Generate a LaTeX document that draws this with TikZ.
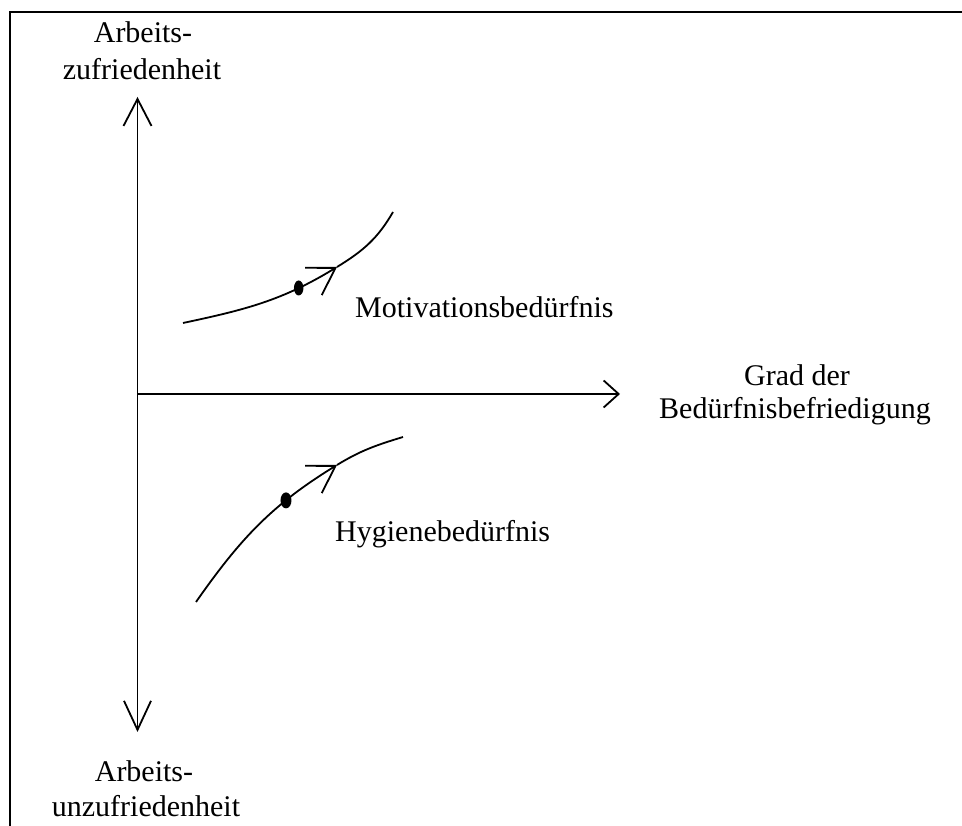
\documentclass[tikz,border=0pt]{standalone}
\usepackage{fontspec}
\setmainfont{Liberation Serif}
\usetikzlibrary{arrows.meta,shapes.geometric}

\begin{document}
\begin{tikzpicture}[x=1pt,y=1pt,
  line/.style={line width=1.8pt, line join=miter},
  lbl/.style={font=\fontsize{30}{36}\selectfont, inner sep=0pt},
  axistip/.tip={Straight Barb[length=27pt,width=28pt]},
  axistipb/.tip={Straight Barb[length=29pt,width=27pt]},
  axistipx/.tip={Straight Barb[length=15pt,width=27pt]},
  curvetip/.tip={Straight Barb[length=26pt,width=32pt]},
  blob/.style={ellipse, fill=black, draw=none, inner sep=0pt}
]
\useasboundingbox (0,0) rectangle (962,826);

% frame (top and left edges)
\draw[line] (10,0) -- (10,814) -- (962,814);

% axes
\coordinate (O) at (137.5,432);
\coordinate (ytop) at (137.5,729);
\coordinate (ybot) at (137.5,94);
\coordinate (xend) at (620,432);
\draw[line, axistipb-axistip] (ybot) -- (ytop);
\draw[line, -axistipx] (O) -- (xend);

% axis labels
\node[lbl, anchor=base] (zt1) at (143,783) {Arbeits-};
\node[lbl, anchor=base] (zt2) at (142,746) {zufriedenheit};
\node[lbl, anchor=base] (zb1) at (144,44) {Arbeits-};
\node[lbl, anchor=base] (zb2) at (146,9) {unzufriedenheit};
\node[lbl, anchor=base] (gx1) at (797,440) {Grad der};
\node[lbl, anchor=base] (gx2) at (795,407) {Bedürfnisbefriedigung};

% motivation curve
\coordinate (m0) at (183,503);
\coordinate (mt) at (337,559);
\coordinate (m1) at (393,614);
\draw[line, -curvetip] (m0) to[out=12,in=211.5]
  node[pos=0.75, blob, minimum width=9.5pt, minimum height=15pt] (mdot) {} (mt);
\draw[line] (mt) to[out=31.5,in=240] (m1);
\node[lbl, anchor=base west] (mlbl) at (355,508) {Motivationsbedürfnis};

% hygiene curve
\coordinate (h0) at (196,224);
\coordinate (ht) at (337,361);
\coordinate (h1) at (403,389);
\draw[line, -curvetip] (h0) to[out=55,in=211.5]
  node[pos=0.7, blob, minimum width=11pt, minimum height=16pt] (hdot) {} (ht);
\draw[line] (ht) to[out=31.5,in=197] (h1);
\node[lbl, anchor=base west] (hlbl) at (335,284) {Hygienebedürfnis};
\end{tikzpicture}
\end{document}
